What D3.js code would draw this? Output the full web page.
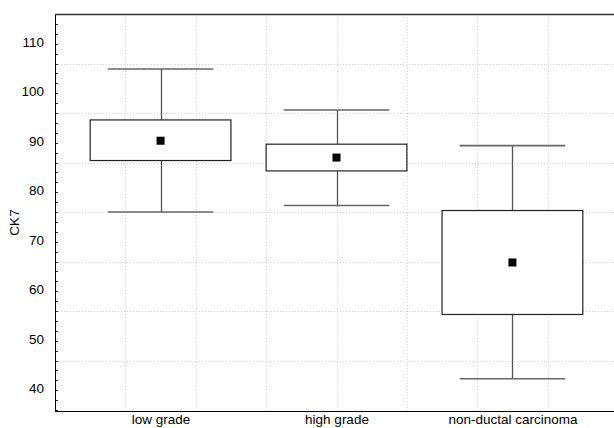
<!DOCTYPE html>
<html>
<head>
<meta charset="utf-8">
<script src="https://cdn.jsdelivr.net/npm/d3@7"></script>
<style>
  html, body { margin: 0; padding: 0; background: #fff; }
  svg { display: block; overflow: hidden; }
  text { font-family: "Liberation Sans", Arial, sans-serif; }
</style>
</head>
<body>
<div id="chart"></div>
<script>
// ---- data ----
const categories = ["low grade", "high grade", "non-ductal carcinoma"];
const means = [90.0, 86.6, 65.4];
const boxLow = [86.0, 83.9, 54.9];
const boxHigh = [94.2, 89.3, 75.9];
const whiskerLow = [75.6, 76.9, 41.9];
const whiskerHigh = [104.5, 96.2, 89.0];
const yTickLabels = [40, 50, 60, 70, 80, 90, 100, 110];
const yTitle = "CK7";

(function () {
// ---- layout ----
const W = 614, H = 428;
const mLeft = 55, mTop = 14, mBottom = 411, mRight = 618;
const yMin = 35.4, yMax = 115.6;
const xMin = 0.4, xMax = 3.6;

const svg = d3.select("#chart").append("svg")
  .attr("width", W).attr("height", H);

const x = d3.scaleLinear().domain([xMin, xMax]).range([mLeft, mRight]);
const y = d3.scaleLinear().domain([yMin, yMax]).range([mBottom, mTop]);

// grid lines (spaced from top / left edges)
const hGrid = d3.range(1, 8).map(k => yMax - 10 * k);
const vGrid = d3.range(1, 9).map(k => xMin + 0.4 * k);
const grid = svg.append("g").attr("stroke", "#d2d2d2").attr("stroke-dasharray", "1,2").attr("stroke-width", 1);
grid.selectAll("line.h").data(hGrid).join("line")
  .attr("x1", mLeft).attr("x2", mRight)
  .attr("y1", d => Math.round(y(d)) + 0.5).attr("y2", d => Math.round(y(d)) + 0.5);
grid.selectAll("line.v").data(vGrid).join("line")
  .attr("y1", mTop).attr("y2", mBottom)
  .attr("x1", d => Math.round(x(d)) + 0.5).attr("x2", d => Math.round(x(d)) + 0.5);

// boxes
const idx = categories.map((c, i) => i);
const cx = i => x(i + 1);
const g = svg.append("g");
// whiskers
g.selectAll("line.wu").data(idx).join("line")
  .attr("x1", i => Math.round(cx(i)) + 0.5).attr("x2", i => Math.round(cx(i)) + 0.5)
  .attr("y1", i => y(whiskerHigh[i])).attr("y2", i => y(boxHigh[i]))
  .attr("stroke", "#555").attr("stroke-width", 1.3);
g.selectAll("line.wl").data(idx).join("line")
  .attr("x1", i => Math.round(cx(i)) + 0.5).attr("x2", i => Math.round(cx(i)) + 0.5)
  .attr("y1", i => y(boxLow[i])).attr("y2", i => y(whiskerLow[i]))
  .attr("stroke", "#555").attr("stroke-width", 1.3);
// caps
const capHalf = 0.3;
[whiskerHigh, whiskerLow].forEach(arr => {
  g.append("g").selectAll("line").data(idx).join("line")
    .attr("x1", i => x(i + 1 - capHalf)).attr("x2", i => x(i + 1 + capHalf))
    .attr("y1", i => y(arr[i])).attr("y2", i => y(arr[i]))
    .attr("stroke", "#666").attr("stroke-width", 1.6);
});
// box
const boxHalf = 0.4;
g.append("g").selectAll("rect").data(idx).join("rect")
  .attr("x", i => x(i + 1 - boxHalf))
  .attr("width", i => x(i + 1 + boxHalf) - x(i + 1 - boxHalf))
  .attr("y", i => y(boxHigh[i]))
  .attr("height", i => y(boxLow[i]) - y(boxHigh[i]))
  .attr("fill", "#fff").attr("stroke", "#222").attr("stroke-width", 1.2);
// mean markers
const ms = 8;
g.append("g").selectAll("rect").data(idx).join("rect")
  .attr("x", i => cx(i) - ms / 2).attr("y", i => y(means[i]) - ms / 2)
  .attr("width", ms).attr("height", ms).attr("fill", "#000");

// minor ticks on left axis (every 2 units from top)
const minor = d3.range(0, 41).map(k => yMax - 2 * k).filter(v => v >= yMin);
svg.append("g").selectAll("line").data(minor).join("line")
  .attr("x1", mLeft).attr("x2", mLeft + 3)
  .attr("y1", d => Math.round(y(d)) + 0.5).attr("y2", d => Math.round(y(d)) + 0.5)
  .attr("stroke", "#333").attr("stroke-width", 1);

const yAxis = svg.append("g").attr("transform", `translate(${mLeft},0)`)
  .call(d3.axisLeft(y).tickValues(yTickLabels).tickSize(0).tickPadding(11));
yAxis.select(".domain").remove();
yAxis.selectAll("text").attr("font-size", 13.5).attr("fill", "#000")
  .attr("font-family", "Liberation Sans, Arial, sans-serif");

const xAxis = svg.append("g").attr("transform", `translate(0,${mBottom})`)
  .call(d3.axisBottom(x).tickValues(idx.map(i => i + 1)).tickFormat((d, i) => categories[i]).tickSize(0).tickPadding(3));
xAxis.select(".domain").remove();
xAxis.selectAll("text").attr("font-size", 13.5).attr("fill", "#000")
  .attr("font-family", "Liberation Sans, Arial, sans-serif");

// frame lines
svg.append("line").attr("x1", mLeft + 0.5).attr("x2", mLeft + 0.5).attr("y1", mTop).attr("y2", mBottom + 0.5)
  .attr("stroke", "#000").attr("stroke-width", 1);
svg.append("line").attr("x1", mLeft).attr("x2", mRight).attr("y1", mBottom + 0.5).attr("y2", mBottom + 0.5)
  .attr("stroke", "#000").attr("stroke-width", 1);
svg.append("line").attr("x1", mLeft).attr("x2", mRight).attr("y1", mTop + 0.5).attr("y2", mTop + 0.5)
  .attr("stroke", "#333").attr("stroke-width", 1.5);

// y title
svg.append("text")
  .attr("transform", `translate(19,${(mTop + mBottom) / 2 + 10}) rotate(-90)`)
  .attr("text-anchor", "middle").attr("font-size", 13.5).attr("fill", "#000")
  .text(yTitle);
})();
</script>
</body>
</html>
